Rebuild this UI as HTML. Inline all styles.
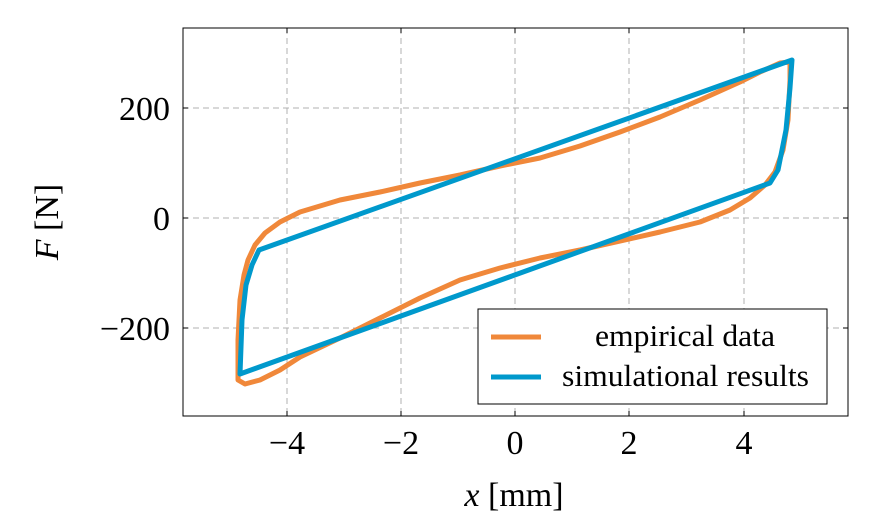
<!DOCTYPE html>
<html><head><meta charset="utf-8"><style>
body{margin:0;background:#fff;}
text{font-family:"Liberation Serif",serif;fill:#000;}
</style></head><body>
<svg width="894" height="524" viewBox="0 0 894 524" xmlns="http://www.w3.org/2000/svg">
<g stroke="#b0b0b0" stroke-width="1" stroke-dasharray="6,4">
<line x1="287" y1="28" x2="287" y2="416"/><line x1="401" y1="28" x2="401" y2="416"/>
<line x1="515" y1="28" x2="515" y2="416"/><line x1="629" y1="28" x2="629" y2="416"/>
<line x1="744" y1="28" x2="744" y2="416"/>
<line x1="183" y1="108" x2="848" y2="108"/><line x1="183" y1="218" x2="848" y2="218"/>
<line x1="183" y1="328" x2="848" y2="328"/>
</g>
<g stroke="#000" stroke-width="1">
<line x1="287" y1="416" x2="287" y2="411"/><line x1="401" y1="416" x2="401" y2="411"/><line x1="515" y1="416" x2="515" y2="411"/><line x1="629" y1="416" x2="629" y2="411"/><line x1="744" y1="416" x2="744" y2="411"/>
<line x1="287" y1="28" x2="287" y2="33"/><line x1="401" y1="28" x2="401" y2="33"/><line x1="515" y1="28" x2="515" y2="33"/><line x1="629" y1="28" x2="629" y2="33"/><line x1="744" y1="28" x2="744" y2="33"/>
<line x1="183" y1="108" x2="188" y2="108"/><line x1="183" y1="218" x2="188" y2="218"/><line x1="183" y1="328" x2="188" y2="328"/>
<line x1="848" y1="108" x2="843" y2="108"/><line x1="848" y1="218" x2="843" y2="218"/><line x1="848" y1="328" x2="843" y2="328"/>
</g>
<polyline fill="none" stroke="#f0883a" stroke-width="5" stroke-linejoin="round" points="790,62 780,63 760,72 740,82 700,100 660,117 620,132 580,146 540,158 500,166 460,175 420,183 380,192 340,200 300,212 280,222 265,233 255,245 248,260 244,275 240,300 238,340 238,380 245,384 260,380 280,370 300,357 340,338 380,318 420,298 460,280 500,268 540,258 580,250 620,241 660,232 700,222 730,210 750,198 765,185 775,172 783,150 788,120 790,80 790,62"/>
<polygon fill="none" stroke="#0099cc" stroke-width="5" stroke-linejoin="round" points="792,60 790,88 786,130 778,170 770,183 240,374 242,320 246,285 252,265 259,250"/>
<rect x="183" y="28" width="665" height="388" fill="none" stroke="#000" stroke-width="1"/>
<rect x="478" y="309" width="349" height="95" fill="#fff" stroke="#000" stroke-width="1"/>
<line x1="491" y1="337" x2="541" y2="337" stroke="#f0883a" stroke-width="5"/>
<line x1="491" y1="377" x2="541" y2="377" stroke="#0099cc" stroke-width="5"/>
<text x="595" y="346" font-size="31" textLength="180" lengthAdjust="spacingAndGlyphs">empirical data</text>
<text x="562" y="386" font-size="31" textLength="247" lengthAdjust="spacingAndGlyphs">simulational results</text>
<g font-size="34" text-anchor="middle">
<text x="287" y="454">−4</text><text x="401" y="454">−2</text><text x="515" y="454">0</text><text x="629" y="454">2</text><text x="744" y="454">4</text>
</g>
<g font-size="34" text-anchor="end">
<text x="170" y="120">200</text><text x="170" y="230">0</text><text x="170" y="340">−200</text>
</g>
<text x="514" y="506" font-size="34" text-anchor="middle"><tspan font-style="italic">x</tspan> [mm]</text>
<text transform="translate(58,222) rotate(-90)" font-size="34" text-anchor="middle"><tspan font-style="italic">F</tspan> [N]</text>
</svg>
</body></html>
